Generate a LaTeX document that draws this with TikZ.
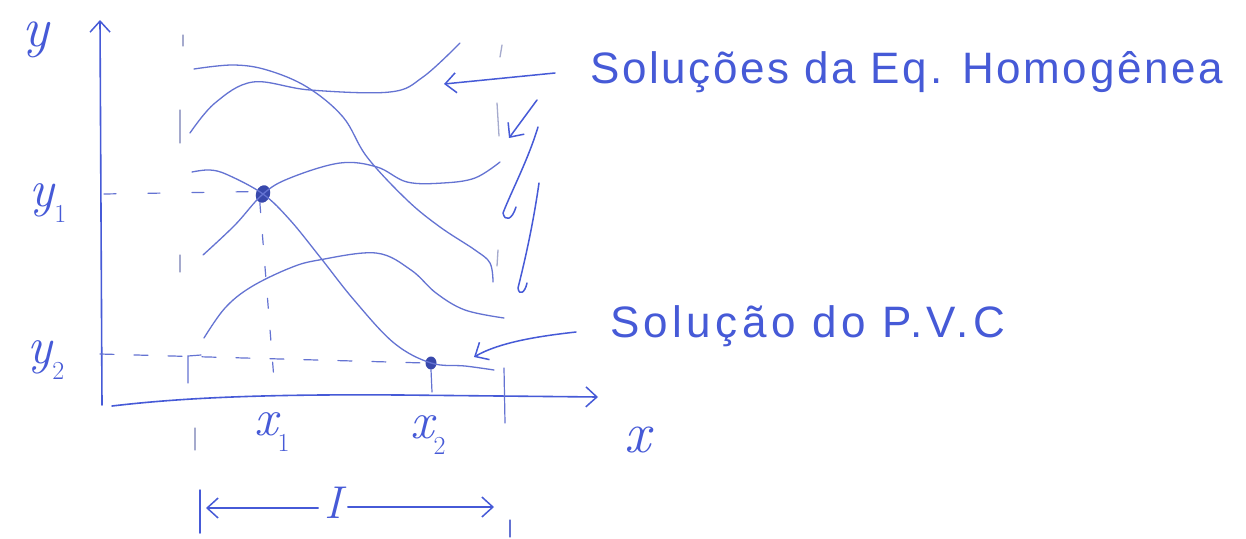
\documentclass[tikz,border=0pt]{standalone}
\usepackage{fontspec}
\newfontfamily\handfont[LetterSpace=6]{Liberation Sans}
\newfontfamily\handfontwide[LetterSpace=10]{Liberation Sans}
\usetikzlibrary{arrows.meta,shapes.geometric}
\definecolor{ink}{RGB}{70,90,215}
\definecolor{pencil}{RGB}{100,115,210}
\definecolor{faint}{RGB}{165,170,205}
\newcommand{\lblsub}[1]{\raisebox{-0.3em}{\upshape\fontsize{26}{28}\selectfont #1}}
\tikzset{
  curve/.style={draw=pencil, line width=1.3pt, line cap=round, line join=round},
  axisline/.style={draw=ink, line width=1.6pt, line cap=round, line join=round},
  inkarrow/.style={draw=ink, line width=1.5pt, line cap=round, line join=round},
  barb/.style={-{Straight Barb[length=11pt,width=20pt,line width=1.5pt]}},
  faintmark/.style={draw=faint, line width=1.3pt, line cap=round},
  guide/.style={draw=pencil, line width=1.2pt, line cap=round},
  dotnode/.style={ellipse, fill=ink!80!black, inner sep=0pt, minimum width=#1},
  lbl/.style={text=ink, inner sep=0pt},
  handtext/.style={text=ink, inner sep=0pt, font=\handfont\fontsize{44}{50}\selectfont}
}
\begin{document}
\begin{tikzpicture}[x=1pt,y=-1pt]
\useasboundingbox[fill=white] (0,0) rectangle (1246,538);

% axes
\coordinate (O) at (102,405);
\coordinate (ytip) at (100,20);
\coordinate (xtip) at (598,397);
\draw[axisline, barb] (O) -- (ytip);
\draw[axisline, barb] (112,406) .. controls (180,398) and (260,394) .. (400,395) -- (xtip);

% key points
\node[dotnode=14pt, minimum height=18pt, rotate=-20] (p1) at (263,194) {};
\node[dotnode=11pt, minimum height=13pt] (p2) at (431,363) {};

% homogeneous solution curves
\draw[curve] plot[smooth, tension=0.6] coordinates {(194,69) (233,65) (267,70) (307,87) (343,117) (367,157) (407,200) (440,227) (475,250) (490,263) (493,282)};
\draw[curve] plot[smooth, tension=0.6] coordinates {(190,133) (215,103) (253,82) (310,90) (390,92) (423,77) (460,43)};
\draw[curve] plot[smooth, tension=0.6] coordinates {(203,255) (235,225) (p1) (290,178) (340,163) (377,167) (407,182) (443,183) (475,178) (500,162)};
\draw[curve] plot[smooth, tension=0.6] coordinates {(204,338) (225,308) (251,287) (290,268) (319,260) (376,253) (411,270) (436,293) (465,310) (504,318)};
% PVC solution
\draw[curve] plot[smooth, tension=0.6] coordinates {(192,172) (210,170) (228,175) (p1) (290,220) (320,257) (354,300) (394,343) (p2) (465,366) (494,370)};

% guide lines to points
\coordinate (y1a) at (104,194);
\coordinate (y2a) at (100,354);
\coordinate (x1a) at (275,392);
\draw[guide, dash pattern=on 12pt off 32pt] (y1a) -- (p1.west);
\draw[guide, dash pattern=on 10pt off 22pt] (p1.south) -- (x1a);
\draw[guide, dash pattern=on 14pt off 20pt] (y2a) -- (p2.west);
\draw[guide] (p2.south) -- (432,392);

% interval boundary marks
\draw[faintmark] (183,35) -- (183,46) (180,110) -- (180,143) (180,255) -- (180,272) (195,428) -- (195,450);
\draw[guide] (188,383) -- (188,356) -- (201,355);
\draw[faintmark] (502,45) -- (500,57) (497,103) -- (499,136) (498,250) -- (497,266);
\draw[guide] (504,368) -- (505,423);

% interval I
\node[lbl, font=\itshape\fontsize{46}{50}\selectfont] (I) at (333,503) {I};
\coordinate (Il) at (206,508);
\coordinate (Ir) at (494,507);
\draw[inkarrow, barb] (I.west) ++(-6,5) -- (Il);
\draw[inkarrow, barb] (I.east) ++(6,4) -- (Ir);
\draw[inkarrow] (200,490) -- (200,533);
\draw[guide] (510,520) -- (510,537);

% axis labels
\node[lbl, font=\itshape\fontsize{56}{60}\selectfont] (ly) at (36,40) {y};
\node[lbl, font=\itshape\fontsize{52}{56}\selectfont] (ly1) at (48,203) {y\lblsub{1}};
\node[lbl, font=\itshape\fontsize{52}{56}\selectfont] (ly2) at (46,360) {y\lblsub{2}};
\node[lbl, font=\itshape\fontsize{52}{56}\selectfont] (lx1) at (272,432) {x\lblsub{1}};
\node[lbl, font=\itshape\fontsize{52}{56}\selectfont] (lx2) at (428,435) {x\lblsub{2}};
\node[lbl, font=\itshape\fontsize{58}{62}\selectfont] (lx) at (638,440) {x};

% captions
\node[handtext, anchor=west] (hom) at (590,72) {Soluções da Eq. Homogênea};
\node[handtext, anchor=west, font=\handfontwide\fontsize{44}{50}\selectfont] (pvc) at (610,326) {Solução do P.V.C};

% caption arrows
\coordinate (h0) at (555,73);
\coordinate (h1) at (444,84);
\draw[inkarrow, barb] (h0) -- (h1);
\coordinate (a2s) at (537,100);
\coordinate (a2e) at (509,138);
\draw[inkarrow, barb] (a2s) -- (a2e);
\coordinate (a3s) at (538,127);
\draw[inkarrow] (a3s) .. controls (528,160) and (512,190) .. (503,213) .. controls (505,222) and (512,220) .. (516,207);
\coordinate (a4s) at (539,183);
\draw[inkarrow] (a4s) .. controls (533,225) and (525,260) .. (518,288) .. controls (519,296) and (525,293) .. (527,283);
\coordinate (v0) at (576,332);
\coordinate (v1) at (474,357);
\draw[inkarrow, barb] (v0) .. controls (540,336) and (500,342) .. (v1);
\end{tikzpicture}
\end{document}
